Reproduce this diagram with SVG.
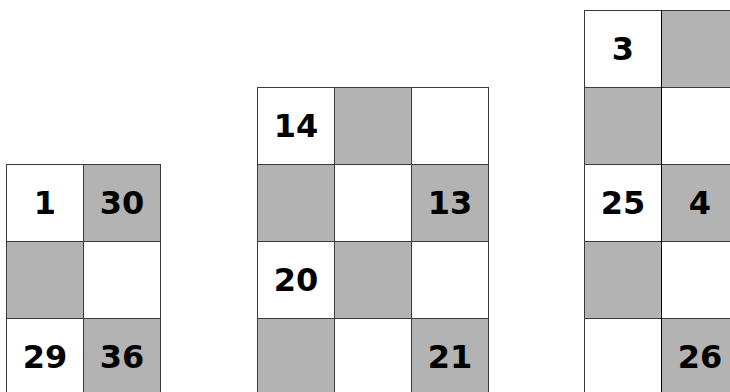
<svg xmlns="http://www.w3.org/2000/svg" width="730" height="392" viewBox="0 0 730 392">
<style>
.w{fill:#ffffff;stroke:#3a3a3a;stroke-width:1}
.g{fill:#b3b3b3;stroke:#3a3a3a;stroke-width:1}
.t{font-family:"DejaVu Sans",sans-serif;font-weight:bold;font-size:32px;fill:#000;text-anchor:middle}
</style>
<rect width="730" height="392" fill="#ffffff"/>
<g id="block-left">
<rect class="w" x="6.5" y="164.5" width="77" height="77"/>
<rect class="g" x="83.5" y="164.5" width="77" height="77"/>
<rect class="g" x="6.5" y="241.5" width="77" height="77"/>
<rect class="w" x="83.5" y="241.5" width="77" height="77"/>
<rect class="w" x="6.5" y="318.5" width="77" height="77"/>
<rect class="g" x="83.5" y="318.5" width="77" height="77"/>
<text class="t" x="45" y="213.5">1</text>
<text class="t" x="122" y="213.5">30</text>
<text class="t" x="45" y="367.5">29</text>
<text class="t" x="122" y="367.5">36</text>
</g>
<g id="block-middle">
<rect class="w" x="257.5" y="87.5" width="77" height="77"/>
<rect class="g" x="334.5" y="87.5" width="77" height="77"/>
<rect class="w" x="411.5" y="87.5" width="77" height="77"/>
<rect class="g" x="257.5" y="164.5" width="77" height="77"/>
<rect class="w" x="334.5" y="164.5" width="77" height="77"/>
<rect class="g" x="411.5" y="164.5" width="77" height="77"/>
<rect class="w" x="257.5" y="241.5" width="77" height="77"/>
<rect class="g" x="334.5" y="241.5" width="77" height="77"/>
<rect class="w" x="411.5" y="241.5" width="77" height="77"/>
<rect class="g" x="257.5" y="318.5" width="77" height="77"/>
<rect class="w" x="334.5" y="318.5" width="77" height="77"/>
<rect class="g" x="411.5" y="318.5" width="77" height="77"/>
<text class="t" x="296" y="136.5">14</text>
<text class="t" x="450" y="213.5">13</text>
<text class="t" x="296" y="290.5">20</text>
<text class="t" x="450" y="367.5">21</text>
</g>
<g id="block-right">
<rect class="w" x="584.5" y="10.5" width="77" height="77"/>
<rect class="g" x="661.5" y="10.5" width="77" height="77"/>
<rect class="g" x="584.5" y="87.5" width="77" height="77"/>
<rect class="w" x="661.5" y="87.5" width="77" height="77"/>
<rect class="w" x="584.5" y="164.5" width="77" height="77"/>
<rect class="g" x="661.5" y="164.5" width="77" height="77"/>
<rect class="g" x="584.5" y="241.5" width="77" height="77"/>
<rect class="w" x="661.5" y="241.5" width="77" height="77"/>
<rect class="w" x="584.5" y="318.5" width="77" height="77"/>
<rect class="g" x="661.5" y="318.5" width="77" height="77"/>
<line x1="661.5" y1="10" x2="661.5" y2="392" stroke="#000" stroke-width="1"/>
<text class="t" x="623" y="59.5">3</text>
<text class="t" x="623" y="213.5">25</text>
<text class="t" x="700" y="213.5">4</text>
<text class="t" x="700" y="367.5">26</text>
</g>
</svg>
